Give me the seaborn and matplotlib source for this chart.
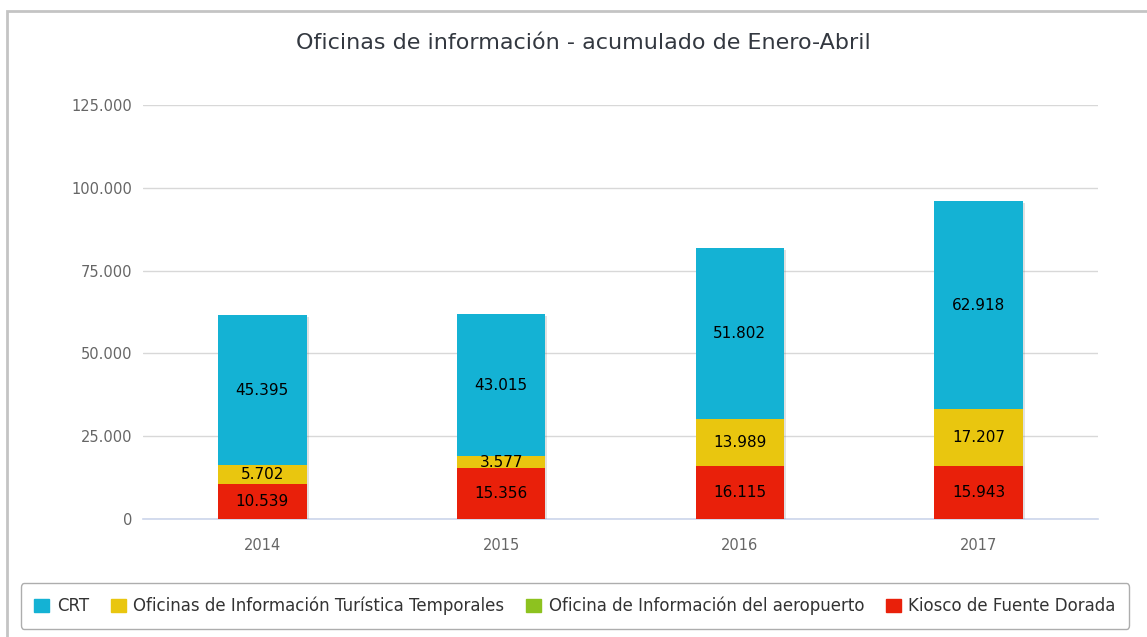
import numpy as np
import pandas as pd
import seaborn as sns
import matplotlib.pyplot as plt
import matplotlib.patheffects as pe
from matplotlib.patches import Rectangle, Patch
from matplotlib.ticker import FuncFormatter, FixedLocator

# data
years = ['2014', '2015', '2016', '2017']
kiosco = [10539, 15356, 16115, 15943]
aeropuerto = [0, 0, 0, 0]
temporales = [5702, 3577, 13989, 17207]
crt = [45395, 43015, 51802, 62918]

series_names = ['CRT', 'Oficinas de Información Turística Temporales',
                'Oficina de Información del aeropuerto', 'Kiosco de Fuente Dorada']
colors = {'CRT': '#14B2D4',
          'Oficinas de Información Turística Temporales': '#E9C60F',
          'Oficina de Información del aeropuerto': '#8DC21F',
          'Kiosco de Fuente Dorada': '#E9200A'}

def fmt(v):
    return f"{int(v):,}".replace(",", ".")

df = pd.DataFrame({'year': years, 'kiosco': kiosco, 'aeropuerto': aeropuerto,
                   'temporales': temporales, 'crt': crt})
# cumulative tops, stacked from the bottom: kiosco, aeropuerto, temporales, crt
df['c1'] = df['kiosco']
df['c2'] = df['c1'] + df['aeropuerto']
df['c3'] = df['c2'] + df['temporales']
df['c4'] = df['c3'] + df['crt']

sns.set_style('white')
plt.rcParams['font.family'] = ['DejaVu Sans']

fig = plt.figure(figsize=(11.47, 6.37), dpi=100)
ax = fig.add_axes([143 / 1147, 1 - 519 / 637, (1098 - 143) / 1147, 414 / 637])

bw = 0.37
# draw tallest first so the lower segments sit on top
sns.barplot(data=df, x='year', y='c4', color=colors['CRT'], saturation=1,
            width=bw, ax=ax, order=years, zorder=3, linewidth=0,
            path_effects=[pe.SimplePatchShadow(offset=(1.5, -1.5), shadow_rgbFace='#888888', alpha=0.25), pe.Normal()])
sns.barplot(data=df, x='year', y='c3', color=colors['Oficinas de Información Turística Temporales'],
            saturation=1, width=bw, ax=ax, order=years, zorder=3, linewidth=0)
sns.barplot(data=df, x='year', y='c2', color=colors['Oficina de Información del aeropuerto'],
            saturation=1, width=bw, ax=ax, order=years, zorder=3, linewidth=0)
sns.barplot(data=df, x='year', y='c1', color=colors['Kiosco de Fuente Dorada'],
            saturation=1, width=bw, ax=ax, order=years, zorder=3, linewidth=0)

# segment labels
for i, row in df.iterrows():
    segs = [(0, row['kiosco']), (row['c2'], row['temporales']), (row['c3'], row['crt'])]
    for base, val in segs:
        if val > 0:
            ax.text(i, base + val / 2, fmt(val), ha='center', va='center',
                    fontsize=11, color='black', zorder=5)

ax.set_xlim(-0.5, 3.5)
ax.set_ylim(0, 125000)
ax.set_yticks([0, 25000, 50000, 75000, 100000, 125000])
ax.yaxis.set_major_formatter(FuncFormatter(lambda v, p: fmt(v)))
ax.grid(axis='y', color='#d8d8d8', lw=1, zorder=0)
ax.set_axisbelow(True)
ax.set_xlabel('')
ax.set_ylabel('')

for s in ['top', 'right', 'left']:
    ax.spines[s].set_visible(False)
ax.spines['bottom'].set_color('#ccd6eb')
ax.spines['bottom'].set_linewidth(1.2)

ax.tick_params(axis='y', length=0, pad=8, labelsize=10.5, labelcolor='#666666')
ax.tick_params(axis='x', which='major', length=0, pad=14, labelsize=10.5, labelcolor='#666666')
ax.xaxis.set_minor_locator(FixedLocator([-0.5, 0.5, 1.5, 2.5, 3.5]))
ax.tick_params(axis='x', which='minor', length=7, width=1.2, color='#ccd6eb', direction='out')

fig.text(583 / 1147, 1 - 43 / 637, 'Oficinas de información - acumulado de Enero-Abril',
         ha='center', va='center', fontsize=16, color='#333840')

handles = [Patch(facecolor=colors[n], edgecolor=colors[n], label=n) for n in series_names]
leg = fig.legend(handles=handles, loc='center', bbox_to_anchor=(575 / 1147, 1 - 606 / 637),
                 ncol=4, frameon=True, fancybox=True, fontsize=12, handlelength=0.9,
                 handleheight=0.9, handletextpad=0.45, columnspacing=1.3,
                 borderpad=0.8, labelcolor='#333333')
leg.get_frame().set_edgecolor('#999999')
leg.get_frame().set_linewidth(1)

# outer chart border (left and top edges visible)
fig.patches.append(Rectangle((7 / 1147, -0.1), 1.2, 1.1 - 11 / 637,
                             transform=fig.transFigure, fill=False,
                             edgecolor='#c4c4c4', lw=2))

fig.savefig('out.png', dpi=100)
